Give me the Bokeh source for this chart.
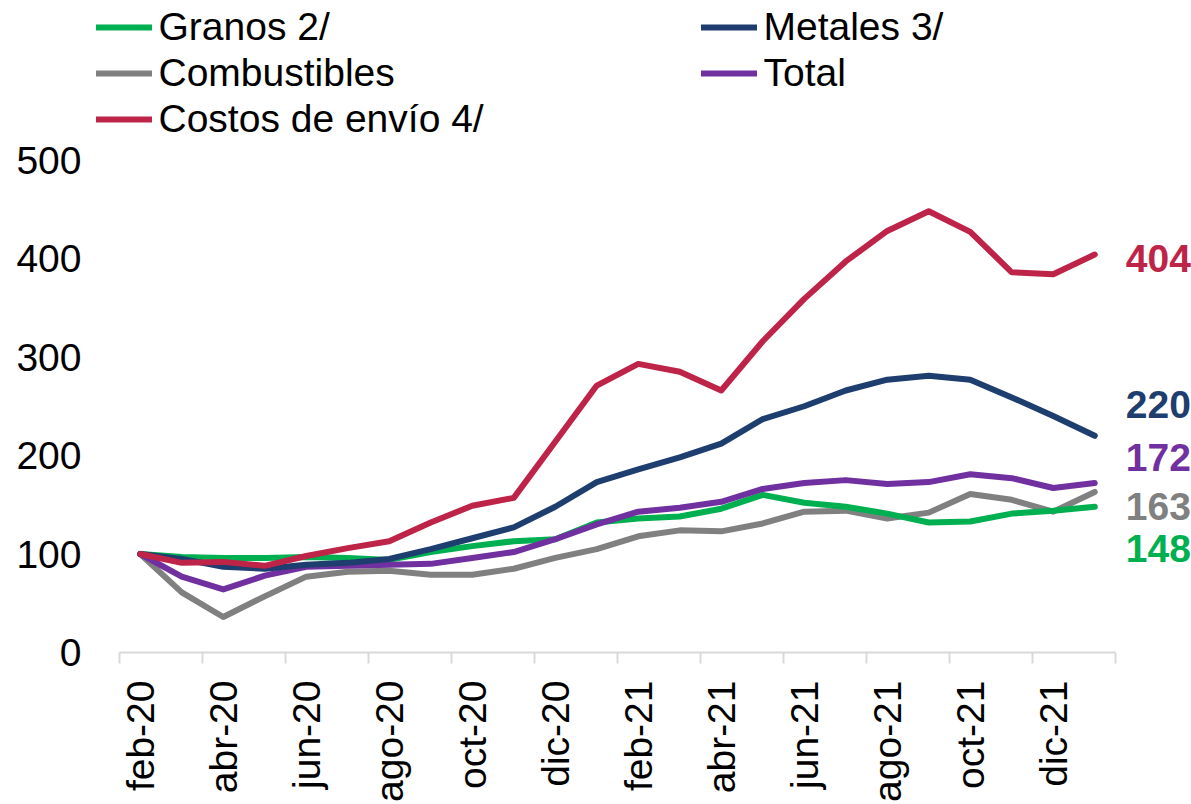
import math
from bokeh.plotting import figure
from bokeh.models import (Range1d, FixedTicker, Legend, LegendItem, ColumnDataSource)
from bokeh.core.properties import value
from bokeh.embed import file_html
from bokeh.resources import INLINE

# ---------------- data ----------------
months = ["feb-20", "mar-20", "abr-20", "may-20", "jun-20", "jul-20", "ago-20",
          "sep-20", "oct-20", "nov-20", "dic-20", "ene-21", "feb-21", "mar-21",
          "abr-21", "may-21", "jun-21", "jul-21", "ago-21", "sep-21", "oct-21",
          "nov-21", "dic-21", "ene-22"]

granos = [100, 97, 96, 96, 97, 96, 94, 102, 108, 113, 115, 132, 136, 138,
          146, 160, 152, 148, 141, 132, 133, 141, 144, 148]
metales = [100, 95, 87, 85, 89, 91, 95, 105, 116, 127, 148, 173, 186, 198,
           212, 237, 250, 266, 277, 281, 277, 259, 240, 220]
combustibles = [100, 61, 36, 57, 77, 82, 83, 79, 79, 85, 96, 105, 118, 124,
                123, 131, 143, 144, 136, 142, 161, 155, 143, 163]
total = [100, 77, 64, 78, 87, 88, 89, 90, 96, 102, 115, 130, 143, 147,
         153, 166, 172, 175, 171, 173, 181, 177, 167, 172]
costos = [100, 91, 92, 88, 98, 106, 113, 132, 149, 157, 214, 271, 293, 285,
          266, 316, 359, 397, 428, 448, 427, 386, 384, 404]

series_names = ["Granos 2/", "Metales 3/", "Combustibles", "Total", "Costos de envío 4/"]
end_labels = ["148", "220", "163", "172", "404"]
end_label_y = [106, 252, 148, 198, 400]
y_ticks = [0, 100, 200, 300, 400, 500]

# ---------------- layout / style ----------------
colors = ["#00B050", "#1D3E6E", "#808080", "#7030A0", "#BE2448"]
FONT = "Liberation Sans"
FS = "39px"

W, H = 1191, 804
FRAME_LEFT = 88          # px (frame starts left of the axis so legend glyphs are not clipped)
AXIS_LEFT_PX = 119       # px where the category axis starts
CAT_PX = 41.5            # px per month
BOTTOM = 152             # px below the frame
PX_PER_UNIT = 0.985      # vertical px per index point

n = len(months)
x_start = -0.5 - (AXIS_LEFT_PX - FRAME_LEFT) / CAT_PX
x_end = x_start + (W - FRAME_LEFT) / CAT_PX
y_end = (H - BOTTOM) / PX_PER_UNIT

p = figure(width=W, height=H, output_backend="svg", toolbar_location=None,
           x_range=Range1d(x_start, x_end), y_range=Range1d(0, y_end),
           min_border_left=FRAME_LEFT, min_border_right=0, min_border_top=0,
           min_border_bottom=BOTTOM, outline_line_color=None)
p.background_fill_color = "white"
p.border_fill_color = "white"
p.xgrid.visible = False
p.ygrid.visible = False

xs = list(range(n))
all_series = [granos, metales, combustibles, total, costos]
draw_order = [2, 0, 3, 1, 4]
renderers = {}
for i in draw_order:
    r = p.line(xs, all_series[i], line_color=colors[i], line_width=6,
               line_join="round", line_cap="round")
    renderers[i] = r

# end labels
lab_src = ColumnDataSource(dict(x=[xs[-1]] * len(end_labels), y=end_label_y,
                                text=end_labels, color=colors))
p.text(x="x", y="y", text="text", text_color="color", source=lab_src,
       x_offset=31, text_font=value(FONT), text_font_size=FS,
       text_font_style="bold", text_baseline="middle", text_align="left")

# x axis
xa = p.xaxis[0]
xa.bounds = (-0.5, n - 0.5)
xa.ticker = FixedTicker(ticks=list(range(0, n, 2)),
                        minor_ticks=[k - 0.5 for k in range(0, n + 1, 2)])
xa.major_label_overrides = {k: months[k] for k in range(0, n, 2)}
xa.major_label_orientation = math.pi / 2
xa.axis_line_color = "#D9D9D9"
xa.axis_line_width = 2
xa.major_tick_line_color = None
xa.major_tick_out = 11
xa.major_tick_in = 0
xa.minor_tick_line_color = "#D9D9D9"
xa.minor_tick_line_width = 2
xa.minor_tick_out = 11
xa.minor_tick_in = 0
xa.major_label_standoff = 17
xa.major_label_text_font = FONT
xa.major_label_text_font_size = FS
xa.major_label_text_color = "black"

# y axis
ya = p.yaxis[0]
ya.ticker = FixedTicker(ticks=y_ticks)
ya.axis_line_color = None
ya.major_tick_line_color = None
ya.minor_tick_line_color = None
ya.major_tick_out = 0
ya.major_tick_in = 0
ya.major_label_standoff = 7
ya.major_label_text_font = FONT
ya.major_label_text_font_size = FS
ya.major_label_text_color = "black"

# legend (row-major: Granos, Metales / Combustibles, Total / Costos)
items = [LegendItem(label=series_names[i], renderers=[renderers[i]]) for i in range(5)]
frame_h = H - BOTTOM
legend = Legend(items=items, location=(7.5, frame_h - 4 - 137), orientation="horizontal",
                ncols=2, glyph_width=56, glyph_height=20, label_standoff=7,
                label_width=540, label_height=20, spacing=2, padding=0, margin=0,
                border_line_color=None, background_fill_alpha=0,
                label_text_font=FONT, label_text_font_size=FS,
                label_text_color="black")
p.add_layout(legend)

open("out.html", "w").write(file_html(p, INLINE))
